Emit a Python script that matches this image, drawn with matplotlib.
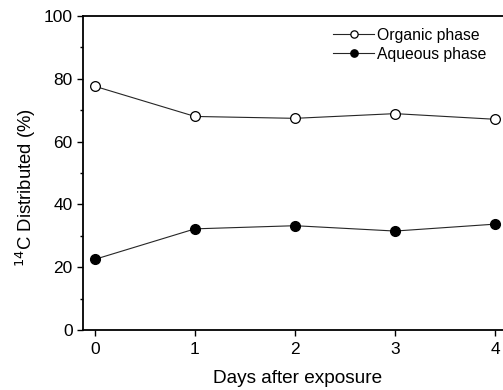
import numpy as np
import matplotlib
matplotlib.use('Agg')
import matplotlib.pyplot as plt
from matplotlib.ticker import MultipleLocator

plt.rcParams['font.family'] = ['Liberation Sans', 'DejaVu Sans']

days = [0, 1, 2, 3, 4]
organic = [77.6, 68.0, 67.4, 68.9, 67.1]
aqueous = [22.5, 32.2, 33.2, 31.5, 33.7]

fig = plt.figure(figsize=(5.03, 3.9), dpi=100)
ax = fig.add_axes([0.165, 0.154, 0.835, 0.805])

ax.plot(days, organic, '-o', color='0.15', lw=0.8, ms=7, mfc='white', mec='black', mew=0.9, label='Organic phase')
ax.plot(days, aqueous, '-o', color='0.15', lw=0.8, ms=7, mfc='black', mec='black', label='Aqueous phase')

ax.set_xlim(-0.12, 4.08)
ax.set_ylim(0, 100)
ax.set_xticks(days)
ax.yaxis.set_major_locator(MultipleLocator(20))
ax.yaxis.set_minor_locator(MultipleLocator(10))
ax.spines['right'].set_visible(False)
for s in ['left', 'bottom', 'top']:
    ax.spines[s].set_linewidth(1.3)
ax.tick_params(which='major', direction='out', length=4, width=1, labelsize=12.5)
ax.tick_params(which='minor', direction='out', length=2.5, width=1)
ax.tick_params(axis='x', pad=5)

ax.set_xlabel('Days after exposure', fontsize=13.7)
ax.xaxis.set_label_coords(0.51, -0.128)
ax.set_ylabel('$^{14}$C Distributed (%)', fontsize=13.3)
ax.yaxis.set_label_coords(-0.108, 0.452)

leg = ax.legend(loc='upper left', bbox_to_anchor=(0.57, 0.997), frameon=False, fontsize=11.3,
                handlelength=2.6, handletextpad=0.2, labelspacing=0.25, borderpad=0.2,
                markerscale=0.75)

fig.savefig('out.png', dpi=100)
